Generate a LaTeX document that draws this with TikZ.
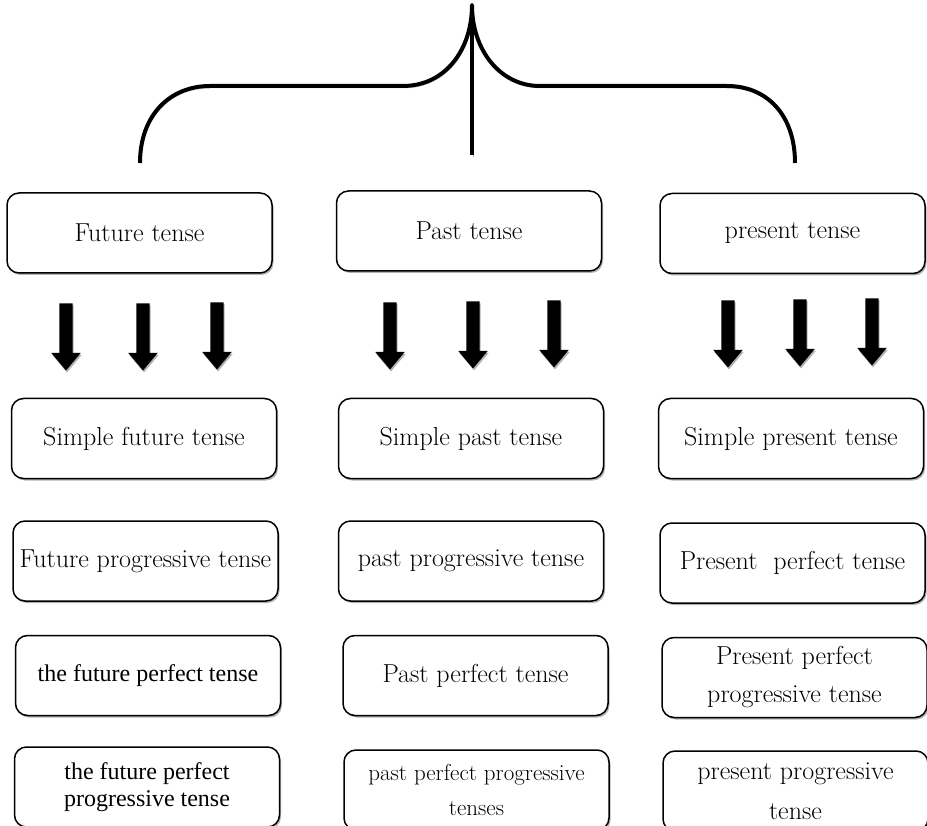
\documentclass[tikz,border=0pt]{standalone}
\usepackage{fontspec}
\newfontfamily\timesfont{Liberation Serif}
\usepackage{tikz}
\usetikzlibrary{positioning,shapes.arrows,shadows}
\tikzstyle{tense}=[rectangle,draw=black,line width=1.5pt,rounded corners=12pt,fill=white,minimum width=265pt,minimum height=80pt,inner sep=0pt,align=center,font=\fontsize{26}{38}\selectfont,drop shadow={shadow xshift=1.5pt,shadow yshift=-2pt,fill=gray!60,opacity=1}]
\tikzstyle{tensetimes}=[tense,font=\timesfont\fontsize{24}{27}\selectfont]
\tikzstyle{downarrow}=[single arrow,shape border rotate=270,fill=black,minimum height=67pt,minimum width=29pt,single arrow head extend=8pt,single arrow tip angle=80,inner sep=6.5pt,drop shadow={shadow xshift=1pt,shadow yshift=-2pt,fill=gray!60,opacity=1}]
\tikzstyle{brace}=[line width=4pt,line join=round,preaction={draw=gray!60,transform canvas={xshift=1pt,yshift=-2pt}}]

\begin{document}
\begin{tikzpicture}[x=1pt,y=-1pt]
	\useasboundingbox (0,0) rectangle (927,826);
	% brace
	\draw[brace] (140,163) .. controls (140,115) and (170,86) .. (210,86) -- (403,86)
		.. controls (445,86) and (472,50) .. (472,5)
		.. controls (472,50) and (500,86) .. (540,86) -- (727,86)
		.. controls (767,86) and (795,115) .. (795,163);
	\draw[brace] (472,5) -- (472,155);
	% top row
	\node[tense] (fut) at (139.5,233) {Future tense};
	\node[tense] (past) at (469,231) {Past tense};
	\node[tense] (pres) at (792.5,233.5) {present tense};
	% arrows
	\foreach \x/\y [count=\i] in {66/333,143/333,217/332,390/332,473/331,554/330,728/330,800/329,872/328}
		\node[downarrow] (arr\i) at (\x,\y) {};
	% future
	\node[tense] (simfut) [below=124pt of fut,xshift=4.5pt] {Simple future tense};
	\node[tense] (progfut) [below=41pt of simfut,xshift=1.5pt] {Future progressive tense};
	\node[tensetimes] (perffut) [below=33pt of progfut,xshift=2.5pt] {the future perfect tense};
	\node[tensetimes] (ppfut) [below=30pt of perffut,xshift=-1pt] {the future perfect\\progressive tense};
	% past
	\node[tense] (simpast) [below=126pt of past,xshift=2pt] {Simple past tense};
	\node[tense] (progpast) [below=41pt of simpast] {past progressive tense};
	\node[tense] (perfpast) [below=33pt of progpast,xshift=4.5pt] {Past perfect tense};
	\node[tense,font=\fontsize{23}{35}\selectfont] (pppast) [below=33pt of perfpast,xshift=1pt] {past perfect progressive\\tenses};
	% present
	\node[tense] (simpres) [below=123.5pt of pres,xshift=-1.5pt] {Simple present tense};
	\node[tense] (perfpres) [below=43pt of simpres,xshift=1.5pt] {Present\ \ perfect tense};
	\node[tense] (ppres) [below=33pt of perfpres,xshift=2pt] {Present perfect\\progressive tense};
	\node[tense,font=\fontsize{26}{40}\selectfont] (progpres) [below=32pt of ppres,xshift=1pt] {present progressive\\tense};
\end{tikzpicture}
\end{document}
